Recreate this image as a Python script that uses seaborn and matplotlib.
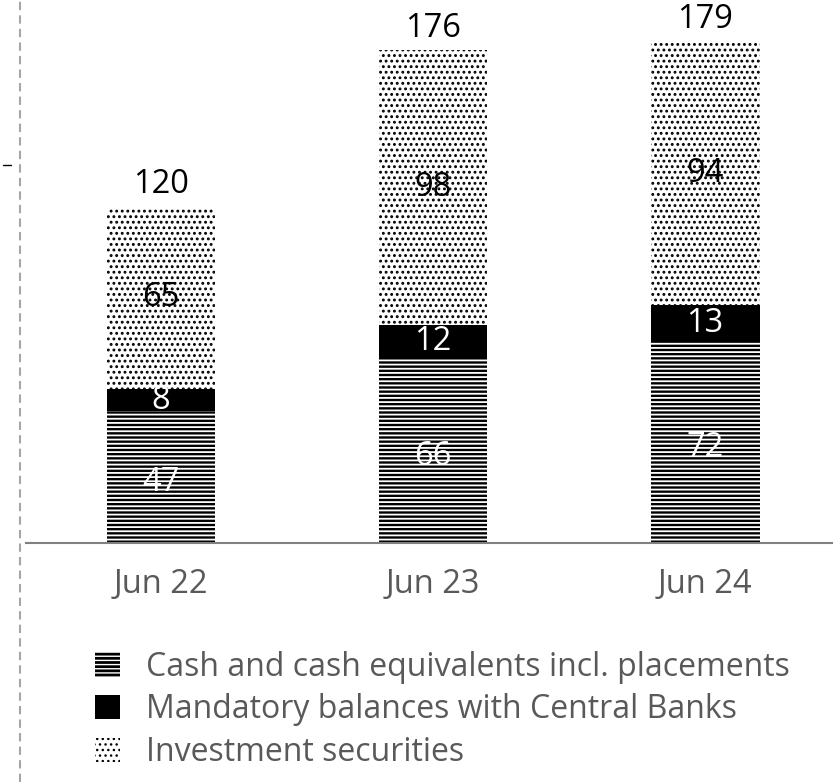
import matplotlib
matplotlib.use("Agg")
import matplotlib.pyplot as plt
from matplotlib.lines import Line2D
from matplotlib.patches import Patch
import numpy as np
import pandas as pd
import seaborn as sns

# Liquidity composition by period
periods = ["Jun 22", "Jun 23", "Jun 24"]
cash = [47, 66, 72]
mandatory = [8, 12, 13]
investment = [65, 98, 94]
totals = [120, 176, 179]

series_names = [
    "Cash and cash equivalents incl. placements",
    "Mandatory balances with Central Banks",
    "Investment securities",
]

sns.set_theme(style="white")
plt.rcParams["font.family"] = ["Open Sans", "DejaVu Sans"]

DOT_LW = 1.3
LINE_LW = 1.3


def set_hlw(patches, lw):
    for p in patches:
        if hasattr(p, "set_hatch_linewidth"):
            p.set_hatch_linewidth(lw)


W, H = 833, 782
fig = plt.figure(figsize=(W / 100, H / 100), dpi=100)
ax = fig.add_axes([26 / W, (H - 543) / H, (W - 26) / W, 543 / H])

df = pd.DataFrame({
    "period": periods,
    "cash": cash,
    "cash_mand": np.add(cash, mandatory),
    "total": np.add(np.add(cash, mandatory), investment),
})

bar_w = 0.40
# stacked look: draw cumulative heights from tallest to shortest
with plt.rc_context({"hatch.linewidth": DOT_LW}):
    sns.barplot(data=df, x="period", y="total", color="white", width=bar_w,
                ax=ax, edgecolor="black", linewidth=0, hatch="...", saturation=1)
set_hlw(ax.patches, DOT_LW)
sns.barplot(data=df, x="period", y="cash_mand", color="black", width=bar_w,
            ax=ax, linewidth=0, saturation=1)
n1 = len(ax.patches)
with plt.rc_context({"hatch.linewidth": LINE_LW}):
    sns.barplot(data=df, x="period", y="cash", color="black", width=bar_w,
                ax=ax, edgecolor="white", linewidth=0, hatch="----", saturation=1)
set_hlw(ax.patches[n1:], LINE_LW)

ax.set_xlim(-0.496, 2.47)
ax.set_ylim(0, 543 / 2.8)
ax.set_xlabel("")
ax.set_ylabel("")
ax.set_yticks([])
for s in ["left", "right", "top"]:
    ax.spines[s].set_visible(False)
ax.spines["bottom"].set_color("#808080")
ax.spines["bottom"].set_linewidth(1.5)
ax.tick_params(axis="x", length=0, pad=18, labelsize=23.5, labelcolor="#595959")

fs = 23.5
for i in range(len(periods)):
    c, m, inv, t = cash[i], mandatory[i], investment[i], totals[i]
    ax.text(i, c / 2 - 2, f"{c}", ha="center", va="center", color="white", fontsize=fs)
    ax.text(i, c + m / 2, f"{m}", ha="center", va="center", color="white", fontsize=fs)
    ax.text(i, c + m + inv / 2, f"{inv}", ha="center", va="center", color="black", fontsize=fs)
    ax.text(i, t + 2, f"{t}", ha="center", va="bottom", color="black", fontsize=fs)

# dashed frame line on the left and a short tick mark
fig.add_artist(Line2D([20 / W, 20 / W], [0, 1], transform=fig.transFigure,
                      color="#A6A6A6", lw=1.5, ls=(0, (4, 2.5))))
fig.add_artist(Line2D([3 / W, 11 / W], [1 - 165 / H, 1 - 165 / H],
                      transform=fig.transFigure, color="black", lw=1))

with plt.rc_context({"hatch.linewidth": LINE_LW}):
    h_cash = Patch(facecolor="black", edgecolor="white", hatch="----", linewidth=0)
h_mand = Patch(facecolor="black", linewidth=0)
with plt.rc_context({"hatch.linewidth": DOT_LW}):
    h_inv = Patch(facecolor="white", edgecolor="black", hatch="...", linewidth=0)
set_hlw([h_cash], LINE_LW)
set_hlw([h_inv], DOT_LW)

leg = fig.legend([h_cash, h_mand, h_inv], series_names, loc="upper left",
                 bbox_to_anchor=(66 / W, 1 - 622 / H), frameon=False,
                 fontsize=23, labelcolor="#595959", handlelength=0.8,
                 handleheight=0.8, handletextpad=0.8, labelspacing=0.3)

fig.savefig("out.png", dpi=100)
